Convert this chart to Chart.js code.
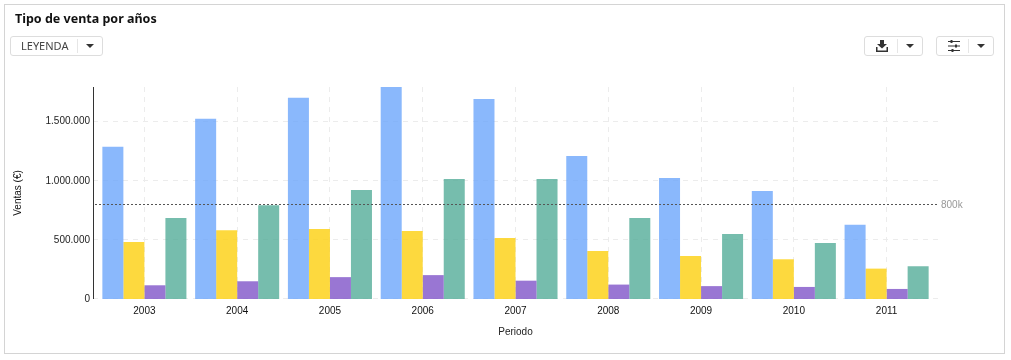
<!DOCTYPE html>
<html>
<head>
    <title>Tipo de venta por años</title>
    <script src="https://cdn.jsdelivr.net/npm/chart.js"></script>
    <style>
        html, body { margin: 0; padding: 0; background: #fff; }
        body { width: 1011px; height: 360px; position: relative; overflow: hidden; font-family: 'Liberation Sans', sans-serif; }
        #frame { position: absolute; left: 4px; top: 4px; width: 999px; height: 348px; border: 1px solid #d4d4d4; }
        canvas { position: absolute; left: 0; top: 0; }
        h1 { position: absolute; left: 15px; top: 10px; margin: 0; font: 700 12.5px/18px 'Noto Sans', sans-serif; color: #111; }
        .btn { position: absolute; top: 36px; height: 18px; border: 1px solid #ddd; border-radius: 3px; background: #fff; box-sizing: content-box; }
        .btn .sep { position: absolute; top: 2px; width: 1px; height: 14px; background: #e6e6e6; }
        .btn .caret { position: absolute; top: 7px; width: 0; height: 0; border-left: 4px solid transparent; border-right: 4px solid transparent; border-top: 4px solid #333; }
        .btn svg { position: absolute; top: 2px; }
        .btn span.txt { position: absolute; left: 10px; top: 0; font: 11px/18px 'Noto Sans', sans-serif; color: #444; }
    </style>
</head>
<body>
    <div id="frame"></div>
    <canvas id="ventasChart" width="1011" height="360"></canvas>
    <h1>Tipo de venta por años</h1>
    <div class="btn" style="left:10px;width:91px"><span class="txt">LEYENDA</span><div class="sep" style="left:66px"></div><div class="caret" style="left:75px"></div></div>
    <div class="btn" style="left:864px;width:57px">
        <svg width="14" height="14" viewBox="0 0 14 14" style="left:10px"><path d="M5 1h4v4h3L7 9.5 2 5h3z M1 8h1.5v3.5h9V8H13v5H1z" fill="#333"/></svg>
        <div class="sep" style="left:32px"></div><div class="caret" style="left:41px"></div>
    </div>
    <div class="btn" style="left:936px;width:56px">
        <svg width="14" height="14" viewBox="0 0 14 14" style="left:10px"><path d="M1 2.5h12M1 7h12M1 11.5h12" stroke="#333" stroke-width="1"/><path d="M3.5 1h2v3h-2zM8 5.500h2v3H8zM4.500 10h2v3h-2z" fill="#333"/></svg>
        <div class="sep" style="left:31px"></div><div class="caret" style="left:40px"></div>
    </div>

    <script>
        // Values
        var years = ['2003', '2004', '2005', '2006', '2007', '2008', '2009', '2010', '2011'];
        var serieAzul = [1288000, 1525000, 1703000, 1793000, 1692000, 1210000, 1024000, 914000, 628000];
        var serieAmarilla = [482000, 581000, 592000, 575000, 515000, 405000, 363000, 336000, 257000];
        var serieMorada = [116000, 150000, 185000, 202000, 155000, 122000, 109000, 102000, 85000];
        var serieVerde = [685000, 792000, 922000, 1015000, 1015000, 685000, 549000, 474000, 277000];
        var yTicks = [0, 500000, 1000000, 1500000];
        var yMax = 1793000;
        var referencia = 800000;
        var referenciaLabel = '800k';

        function formatMiles(v) {
            return String(v).replace(/\B(?=(\d{3})+$)/g, '.');
        }

        // Horizontal grid, y axis line and the reference line overrun the bars' area by 5px
        var extrasPlugin = {
            id: 'extras',
            beforeDatasetsDraw: function(chart) {
                var ctx = chart.ctx, area = chart.chartArea, y = chart.scales.y;
                var left = area.left - 5, right = area.right + 5;
                ctx.save();
                ctx.strokeStyle = '#ececec';
                ctx.setLineDash([5, 5]);
                yTicks.forEach(function(t) {
                    var py = Math.ceil(y.getPixelForValue(t)) - 0.5;
                    ctx.beginPath();
                    ctx.moveTo(left, py);
                    ctx.lineTo(right, py);
                    ctx.stroke();
                });
                ctx.restore();
            },
            afterDatasetsDraw: function(chart) {
                var ctx = chart.ctx, area = chart.chartArea, y = chart.scales.y;
                var left = area.left - 5, right = area.right + 5;
                ctx.save();
                ctx.strokeStyle = '#333';
                ctx.beginPath();
                ctx.moveTo(left + 0.5, area.top);
                ctx.lineTo(left + 0.5, area.bottom);
                ctx.stroke();

                var ry = Math.floor(y.getPixelForValue(referencia)) + 0.5;
                ctx.strokeStyle = '#555';
                ctx.setLineDash([2, 2]);
                ctx.beginPath();
                ctx.moveTo(left + 2, ry);
                ctx.lineTo(right, ry);
                ctx.stroke();

                ctx.fillStyle = '#999';
                ctx.font = "10px 'Liberation Sans', sans-serif";
                ctx.textBaseline = 'middle';
                ctx.fillText(referenciaLabel, right + 3, ry + 1);
                ctx.restore();
            }
        };

        new Chart(document.getElementById('ventasChart').getContext('2d'), {
            type: 'bar',
            plugins: [extrasPlugin],
            data: {
                labels: years,
                datasets: [
                    { label: 'Serie 1', data: serieAzul, backgroundColor: 'rgba(109,166,251,0.8)' },
                    { label: 'Serie 2', data: serieAmarilla, backgroundColor: 'rgba(253,209,20,0.82)' },
                    { label: 'Serie 3', data: serieMorada, backgroundColor: 'rgba(128,84,200,0.8)' },
                    { label: 'Serie 4', data: serieVerde, backgroundColor: 'rgba(80,170,150,0.78)' }
                ]
            },
            options: {
                responsive: false,
                animation: false,
                layout: { padding: { left: 0, right: 78, top: 87, bottom: 0 } },
                plugins: { legend: { display: false }, tooltip: { enabled: false } },
                datasets: { bar: { categoryPercentage: 0.906, barPercentage: 1 } },
                scales: {
                    x: {
                        offset: true,
                        afterFit: function(scale) { scale.height = 61; },
                        grid: { color: '#ececec', offset: false, tickLength: 0 },
                        border: { display: false, dash: [5, 5] },
                        ticks: { color: '#111', font: { family: "'Liberation Sans', sans-serif", size: 10 }, padding: 6, maxRotation: 0 },
                        title: { display: true, text: 'Periodo', color: '#222', font: { family: "'Liberation Sans', sans-serif", size: 10 }, padding: { top: 0, bottom: 22 } }
                    },
                    y: {
                        min: 0,
                        max: yMax,
                        afterFit: function(scale) { scale.width = 98; },
                        afterBuildTicks: function(scale) {
                            scale.ticks = yTicks.map(function(v) { return { value: v }; });
                        },
                        grid: { display: false, drawTicks: false },
                        border: { display: false },
                        ticks: {
                            color: '#222',
                            font: { family: "'Liberation Sans', sans-serif", size: 10 },
                            padding: 8,
                            callback: function(v) { return formatMiles(v); }
                        },
                        title: { display: true, text: 'Ventas (€)', color: '#111', font: { family: "'Liberation Sans', sans-serif", size: 10 }, padding: { top: 12, bottom: 0 } }
                    }
                }
            }
        });
    </script>
</body>
</html>
